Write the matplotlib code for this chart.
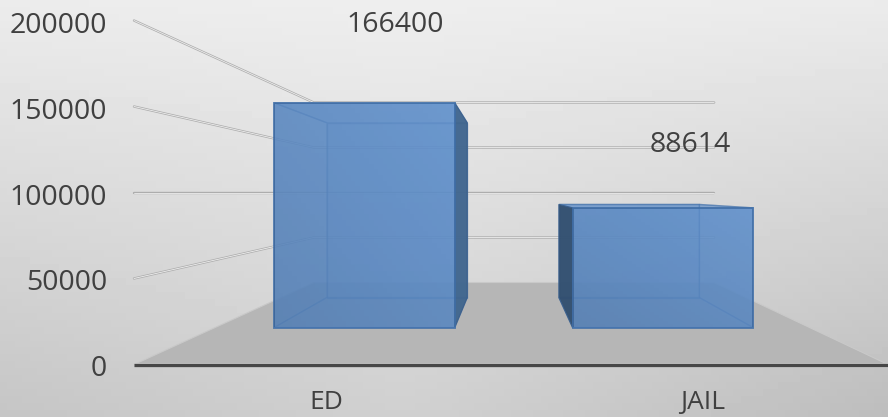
import numpy as np
import matplotlib
matplotlib.use("Agg")
import matplotlib.pyplot as plt
from matplotlib.patches import Polygon

categories = ["ED", "JAIL"]
values = [166400, 88614]
tick_values = [0, 50000, 100000, 150000, 200000]

# perspective set-up (pixel canvas)
W, H = 888, 417
CX, CY = 511, 192.5
V_MID = 100000
K_FRONT, K_BACK = 0.00172, 0.00090      # px per unit at front / back of the floor
K_BAR_F, K_BAR_B = 0.00135, 0.00105     # px per unit at front / back of a bar
X_PER_K = 377 / K_FRONT
CAT_U = [-0.495, 0.513]
BAR_U = 0.305
BACK_RIGHT_U = 1.03


def project(u, v, k):
    return CX + u * k * X_PER_K, CY + (V_MID - v) * k


fig = plt.figure(figsize=(W / 100, H / 100), dpi=100)
ax = fig.add_axes([0, 0, 1, 1])
ax.set_xlim(0, W)
ax.set_ylim(H, 0)
ax.axis("off")

# background gradient
yy, xx = np.mgrid[0:1:60j, 0:1:120j]
shade = 238 - 30 * yy - 12 * np.abs(xx - 0.45) * (0.3 + yy) * 1.5 - 6 * yy * (xx > 0.5) * (xx - 0.5) * 2
ax.imshow(shade, cmap="gray", vmin=0, vmax=255, extent=(0, W, H, 0), aspect="auto", zorder=0)

# floor
floor = [project(-1, 0, K_FRONT), project(1, 0, K_FRONT),
         project(BACK_RIGHT_U, 0, K_BACK), project(-1, 0, K_BACK)]
ax.add_patch(Polygon(floor, closed=True, fc="#b6b6b6", ec="#c9c9c9", lw=0.8, zorder=1))


def grid_line(pts):
    xs, ys = zip(*pts)
    ax.plot(xs, ys, color="#adadad", lw=1.7, solid_capstyle="round", zorder=2)
    ax.plot(xs, ys, color="#eeeeee", lw=0.6, solid_capstyle="round", zorder=2.1)


for t in tick_values[1:]:
    grid_line([project(-1, t, K_FRONT), project(-1, t, K_BACK), project(BACK_RIGHT_U, t, K_BACK)])

# axis line
x0, y0 = project(-1, 0, K_FRONT)
x1, y1 = project(1, 0, K_FRONT)
ax.plot([x0, x1], [y0 + 0.5, y1 + 0.5], color="#bdbdbd", lw=3.4, zorder=3, solid_capstyle="butt")
ax.plot([x0, x1], [y0, y1], color="#474747", lw=2.2, zorder=3.1, solid_capstyle="butt")

# bars
EDGE = "#3f6ea8"
LIGHT = "#6192cf"
DARK = ["#3f648c", "#2f4c6c"]
gy, gx = np.mgrid[0:1:40j, 0:1:40j]
overlay = np.zeros((40, 40, 4))
overlay[..., 3] = 0.01 + 0.05 * gy + 0.05 * (1 - gx)
for i, (cu, val) in enumerate(zip(CAT_U, values)):
    l, r = cu - BAR_U, cu + BAR_U

    def face(a, b, c, d):
        return [project(*a), project(*b), project(*c), project(*d)]

    back = face((l, 0, K_BAR_B), (r, 0, K_BAR_B), (r, val, K_BAR_B), (l, val, K_BAR_B))
    front = face((l, 0, K_BAR_F), (r, 0, K_BAR_F), (r, val, K_BAR_F), (l, val, K_BAR_F))
    left = face((l, 0, K_BAR_F), (l, 0, K_BAR_B), (l, val, K_BAR_B), (l, val, K_BAR_F))
    right = face((r, 0, K_BAR_F), (r, 0, K_BAR_B), (r, val, K_BAR_B), (r, val, K_BAR_F))
    bottom = face((l, 0, K_BAR_F), (r, 0, K_BAR_F), (r, 0, K_BAR_B), (l, 0, K_BAR_B))
    top = face((l, val, K_BAR_F), (r, val, K_BAR_F), (r, val, K_BAR_B), (l, val, K_BAR_B))

    outer, inner = (right, left) if i == 0 else (left, right)
    ax.add_patch(Polygon(back, closed=True, fc=LIGHT, ec=EDGE, lw=1.0, alpha=0.55, zorder=4))
    ax.add_patch(Polygon(inner, closed=True, fc="#5a8ac5", ec=EDGE, lw=1.0, alpha=0.40, zorder=4.1))
    ax.add_patch(Polygon(bottom, closed=True, fc="#5a8ac5", ec=EDGE, lw=1.0, alpha=0.40, zorder=4.2))
    ax.add_patch(Polygon(top, closed=True, fc="#5a8ac5", ec=EDGE, lw=1.0, alpha=0.45, zorder=4.3))
    ax.add_patch(Polygon(outer, closed=True, fc=DARK[i], ec="#3a5f8c", lw=0.8, alpha=0.92, zorder=4.4))
    front_patch = Polygon(front, closed=True, fc=LIGHT, ec=EDGE, lw=1.4, alpha=0.80, zorder=4.5)
    ax.add_patch(front_patch)
    fx, fy = zip(*front)
    im = ax.imshow(overlay, extent=(min(fx), max(fx), max(fy), min(fy)), aspect="auto", zorder=4.6)
    im.set_clip_path(front_patch)

ax.set_xlim(0, W)
ax.set_ylim(H, 0)

# text
FONT = "Open Sans"
TXT = "#404040"
for t in tick_values:
    _, y = project(-1, t, K_FRONT)
    ax.text(107, y + 5, str(t), ha="right", va="center", fontsize=20.5, family=FONT, color=TXT, zorder=6)
for cu, off, name in zip(CAT_U, (2, -2), categories):
    x, _ = project(cu, 0, K_FRONT)
    ax.text(x + off, 402.5, name, ha="center", va="center", fontsize=19, family=FONT, color=TXT, zorder=6)
label_pos = [(395, 25), (690, 145)]
for (lx, ly), val in zip(label_pos, values):
    ax.text(lx, ly, str(val), ha="center", va="center", fontsize=20.5, family=FONT, color=TXT, zorder=6)

fig.savefig("out.png", dpi=100)
